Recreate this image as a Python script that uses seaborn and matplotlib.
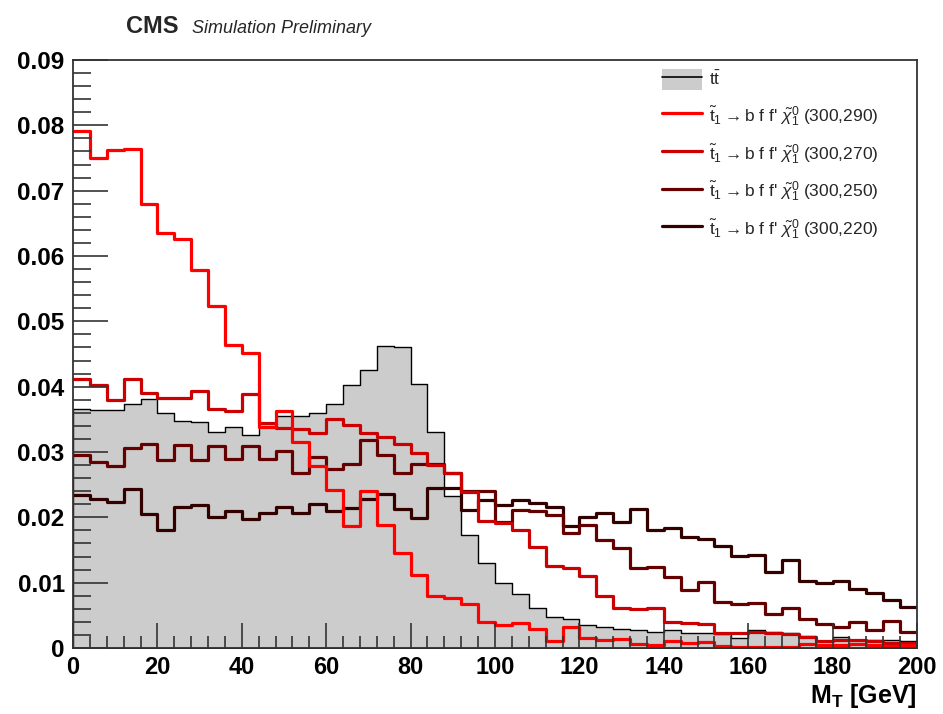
import numpy as np
import pandas as pd
import matplotlib
matplotlib.use('Agg')
import matplotlib.pyplot as plt
import seaborn as sns
from matplotlib.patches import Patch
from matplotlib.lines import Line2D
from matplotlib.ticker import MultipleLocator, FuncFormatter

# M_T binning: 50 bins of 4 GeV between 0 and 200 GeV
bin_edges = np.linspace(0, 200, 51)
bin_centers = 0.5 * (bin_edges[1:] + bin_edges[:-1])

ttbar = [0.0366, 0.0365, 0.0365, 0.0374, 0.0381, 0.0359, 0.0348, 0.0346, 0.0330, 0.0338, 0.0326,
         0.0345, 0.0355, 0.0355, 0.0359, 0.0373, 0.0402, 0.0425, 0.0463, 0.0461, 0.0404, 0.0331,
         0.0232, 0.0173, 0.0130, 0.0099, 0.0083, 0.0061, 0.0048, 0.0044, 0.0035, 0.0032, 0.0029,
         0.0027, 0.0025, 0.0027, 0.0023, 0.0023, 0.0022, 0.0015, 0.0028, 0.0025, 0.0023, 0.0018,
         0.0011, 0.0017, 0.0013, 0.0012, 0.0012, 0.0010]

stop_290 = [0.0791, 0.0750, 0.0762, 0.0764, 0.0680, 0.0635, 0.0626, 0.0578, 0.0524, 0.0464, 0.0451,
            0.0339, 0.0363, 0.0315, 0.0278, 0.0242, 0.0187, 0.0241, 0.0188, 0.0146, 0.0112,
            0.0080, 0.0076, 0.0067, 0.0040, 0.0035, 0.0039, 0.0029, 0.0011, 0.0032, 0.0016,
            0.0012, 0.0014, 0.0006, 0.0005, 0.0011, 0.0007, 0.0009, 0.0003, 0.0002, 0.0002,
            0.0002, 0.0001, 0.0006, 0.0004, 0.0005, 0.0006, 0.0004, 0.0003, 0.0005]

stop_270 = [0.0412, 0.0402, 0.0380, 0.0411, 0.0390, 0.0383, 0.0383, 0.0394, 0.0366, 0.0363, 0.0389,
            0.0345, 0.0336, 0.0335, 0.0329, 0.0350, 0.0341, 0.0329, 0.0323, 0.0312, 0.0298,
            0.0280, 0.0268, 0.0239, 0.0195, 0.0191, 0.0181, 0.0155, 0.0126, 0.0122, 0.0110,
            0.0079, 0.0061, 0.0059, 0.0061, 0.0040, 0.0039, 0.0036, 0.0023, 0.0023, 0.0025,
            0.0023, 0.0022, 0.0017, 0.0010, 0.0012, 0.0013, 0.0010, 0.0007, 0.0008]

stop_250 = [0.0296, 0.0284, 0.0279, 0.0306, 0.0312, 0.0287, 0.0311, 0.0287, 0.0309, 0.0290, 0.0309,
            0.0289, 0.0302, 0.0268, 0.0292, 0.0274, 0.0281, 0.0318, 0.0296, 0.0268, 0.0282,
            0.0282, 0.0268, 0.0240, 0.0241, 0.0193, 0.0211, 0.0209, 0.0204, 0.0176, 0.0188,
            0.0165, 0.0153, 0.0122, 0.0124, 0.0109, 0.0089, 0.0101, 0.0071, 0.0068, 0.0069,
            0.0052, 0.0061, 0.0045, 0.0037, 0.0032, 0.0040, 0.0028, 0.0041, 0.0024]

stop_220 = [0.0234, 0.0228, 0.0224, 0.0243, 0.0205, 0.0180, 0.0216, 0.0219, 0.0201, 0.0209, 0.0197,
            0.0206, 0.0216, 0.0206, 0.0221, 0.0209, 0.0215, 0.0228, 0.0236, 0.0212, 0.0199,
            0.0245, 0.0245, 0.0211, 0.0227, 0.0219, 0.0227, 0.0222, 0.0216, 0.0186, 0.0201,
            0.0206, 0.0193, 0.0212, 0.0180, 0.0183, 0.0170, 0.0167, 0.0156, 0.0141, 0.0142,
            0.0116, 0.0135, 0.0103, 0.0099, 0.0103, 0.0091, 0.0084, 0.0074, 0.0062]

signal_masses = ['(300,290)', '(300,270)', '(300,250)', '(300,220)']
signal_colors = ['#ff0000', '#cc0000', '#660000', '#330000']

df = pd.DataFrame({'mt': bin_centers, 'ttbar': ttbar,
                   's290': stop_290, 's270': stop_270, 's250': stop_250, 's220': stop_220})

sns.set_style('white')
plt.rcParams['font.family'] = ['Liberation Sans', 'DejaVu Sans']
plt.rcParams['mathtext.fontset'] = 'custom'
plt.rcParams['mathtext.rm'] = 'Liberation Sans'
plt.rcParams['mathtext.it'] = 'Liberation Sans:italic'
plt.rcParams['mathtext.bf'] = 'Liberation Sans:bold'

fig = plt.figure(figsize=(9.43, 7.14), dpi=100)
ax = fig.add_axes([73 / 943, 66 / 714, 844 / 943, 588 / 714])
ax.set_axisbelow(False)

# background
sns.histplot(data=df, x='mt', weights='ttbar', binwidth=4, binrange=(0, 200), element='step',
             fill=True, color='#cccccc', alpha=1, edgecolor='black', linewidth=1.0, ax=ax)

# signals, darkest first so the bright red one sits on top
cols = ['s290', 's270', 's250', 's220']
for c, col in reversed(list(zip(cols, signal_colors))):
    sns.histplot(data=df, x='mt', weights=c, binwidth=4, binrange=(0, 200), element='step',
                 fill=False, color=col, linewidth=2.3, ax=ax)

ax.set_xlim(0, 200)
ax.set_ylim(0, 0.09)
ax.set_ylabel('')
ax.set_xlabel(r'$\mathbf{M_{T}}$ [GeV]', fontsize=18, fontweight='bold', color='black', loc='right')
ax.xaxis.set_label_coords(1.0, -0.058)
ax.xaxis.label.set_va('top')

ax.xaxis.set_major_locator(MultipleLocator(20))
ax.xaxis.set_minor_locator(MultipleLocator(4))
ax.yaxis.set_major_locator(MultipleLocator(0.01))
ax.yaxis.set_major_formatter(FuncFormatter(lambda v, p: '0' if abs(v) < 1e-9 else f'{v:.2f}'))
ax.yaxis.set_minor_locator(MultipleLocator(0.002))

ax.tick_params(axis='both', which='both', direction='in', left=True, bottom=True,
               top=False, right=False, color='#333333', labelcolor='black')
ax.tick_params(axis='y', which='major', length=25, width=1.2, pad=6, labelsize=17.5)
ax.tick_params(axis='y', which='minor', length=13, width=1.2)
ax.tick_params(axis='x', which='major', length=18, width=1.2, pad=6, labelsize=17)
ax.tick_params(axis='x', which='minor', length=9, width=1.2)
for lab in ax.get_xticklabels() + ax.get_yticklabels():
    lab.set_fontweight('bold')
for sp in ax.spines.values():
    sp.set_linewidth(1.3)
    sp.set_color('#333333')

# legend
handles = [(Patch(facecolor='#cccccc', edgecolor='none'), Line2D([], [], color='black', lw=1.2))]
labels = [r'$\mathrm{t}\bar{\mathrm{t}}$']
for m, col in zip(signal_masses, signal_colors):
    handles.append(Line2D([], [], color=col, lw=2.3))
    labels.append(r'$\tilde{\mathrm{t}}_{1}\rightarrow$b f f' + "' " + r'$\tilde{\chi}^{0}_{1}$ ' + m)
ax.legend(handles, labels, loc='upper left', bbox_to_anchor=(0.679, 1.012), frameon=False,
          fontsize=12.5, handlelength=2.35, handleheight=1.55, handletextpad=0.4, labelspacing=0.8)

fig.text(126 / 943, 1 - 33 / 714, 'CMS', fontsize=17, fontweight='bold', va='baseline')
fig.text(192 / 943, 1 - 33 / 714, 'Simulation Preliminary', fontsize=13, style='italic', va='baseline')

plt.savefig('out.png', dpi=100)
